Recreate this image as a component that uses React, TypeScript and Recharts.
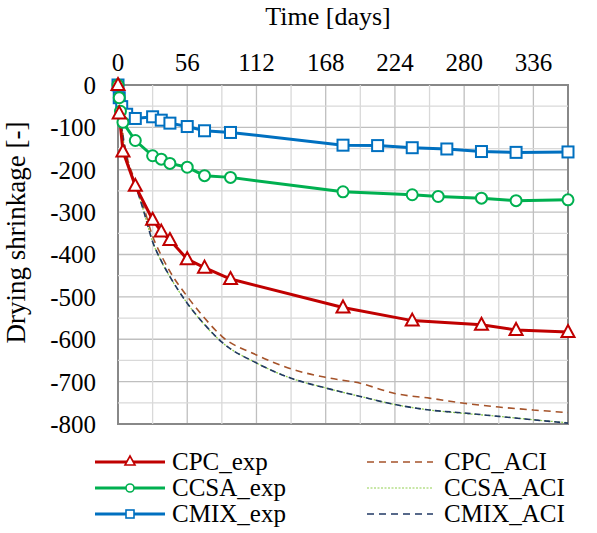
import { CartesianGrid, Line, LineChart, ReferenceArea, ReferenceLine, XAxis, YAxis } from "recharts";

const FONT = "Liberation Serif, Tinos, Times New Roman, Times, DejaVu Serif, serif";

const dayTicks = [0, 56, 112, 168, 224, 280, 336];
const minorDays = [28, 84, 140, 196, 252, 308];
const yTicks = [0, -100, -200, -300, -400, -500, -600, -700, -800];
const minorY = [-50, -150, -250, -350, -450, -550, -650, -750];

const cpcExpDays = [0, 1, 4, 14, 28, 35, 42, 56, 70, 91, 182, 238, 294, 322, 364];
const cpcExpVals = [0, -67, -157, -238, -318, -346, -366, -411, -431, -458, -525, -556, -566, -578, -583];

const ccsaExpDays = [0, 1, 2, 4, 14, 28, 35, 42, 56, 70, 91, 182, 238, 259, 294, 322, 364];
const ccsaExpVals = [0, -30, -62, -88, -131, -167, -175, -185, -194, -214, -218, -252, -259, -263, -267, -273, -271];

const cmixExpDays = [0, 1, 3, 7, 14, 28, 35, 42, 56, 70, 91, 182, 210, 238, 266, 294, 322, 364];
const cmixExpVals = [0, -30, -51, -69, -79, -75, -83, -90, -98, -108, -112, -142, -143, -148, -151, -157, -159, -158];

const aciDays = [0, 3, 7, 14, 21, 28, 35, 42, 56, 70, 84, 112, 140, 168, 196, 224, 252, 280, 308, 336, 364];
const cpcAciVals = [0, -95, -165, -228, -290, -357, -402, -440, -499, -550, -593, -637, -670, -690, -704, -728, -739, -751, -760, -767, -773];
const ccsaAciVals = [0, -100, -172, -236, -300, -370, -416, -453, -515, -566, -607, -656, -692, -715, -735, -754, -767, -775, -782, -790, -797];
const cmixAciVals = [0, -100, -170, -235, -300, -370, -415, -452, -515, -565, -607, -656, -692, -715, -735, -754, -767, -774, -782, -790, -798];

const toPoints = (days: number[], vals: number[]) => days.map((d, i) => ({ day: d, v: vals[i] }));

const RED = "#C00000";
const GREEN = "#00B050";
const BLUE = "#0070C0";
const BROWN = "#A5532A";
const LIGHTGREEN = "#92D050";
const NAVY = "#203864";

function Triangle(props: any) {
  const { cx, cy, index } = props;
  if (cx == null || cy == null) return <g key={index} />;
  return <path key={index} d={`M${cx},${cy - 7} L${cx + 6.5},${cy + 5} L${cx - 6.5},${cy + 5} Z`} fill="#fff" stroke={RED} strokeWidth={2} />;
}
function Circle(props: any) {
  const { cx, cy, index } = props;
  if (cx == null || cy == null) return <g key={index} />;
  return <circle key={index} cx={cx} cy={cy} r={5.5} fill="#fff" stroke={GREEN} strokeWidth={2} />;
}
function Square(props: any) {
  const { cx, cy, index } = props;
  if (cx == null || cy == null) return <g key={index} />;
  return <rect key={index} x={cx - 5.5} y={cy - 5.5} width={11} height={11} fill="#fff" stroke={BLUE} strokeWidth={2} />;
}

const legendLeft = [
  { name: "CPC_exp", color: RED, marker: "tri" },
  { name: "CCSA_exp", color: GREEN, marker: "circ" },
  { name: "CMIX_exp", color: BLUE, marker: "sq" },
];
const legendRight = [
  { name: "CPC_ACI", color: BROWN, dash: "7 5", w: 1.6 },
  { name: "CCSA_ACI", color: LIGHTGREEN, dash: "2 1.5", w: 1.2 },
  { name: "CMIX_ACI", color: NAVY, dash: "7 5", w: 1.6 },
];

export default function App() {
  return (
    <div style={{ position: "absolute", left: 0, top: 0, width: 597, height: 533, background: "#fff", fontFamily: FONT }}>
      <LineChart width={597} height={533} margin={{ top: 0, right: 29, left: 0, bottom: 109 }} style={{ fontFamily: FONT }}>
        {minorDays.map((d) => (
          <ReferenceLine key={"mx" + d} x={d} stroke="#D9D9D9" strokeWidth={1.3} />
        ))}
        {minorY.map((v) => (
          <ReferenceLine key={"my" + v} y={v} stroke="#D9D9D9" strokeWidth={1.3} />
        ))}
        <CartesianGrid stroke="#BFBFBF" strokeWidth={1.3} />
        <XAxis
          type="number"
          dataKey="day"
          orientation="top"
          domain={[0, 364]}
          ticks={dayTicks}
          height={85}
          axisLine={false}
          tickLine={false}
          tickMargin={8}
          tick={{ fill: "#000", fontSize: 25, fontFamily: FONT }}
          allowDuplicatedCategory={false}
          label={{ value: "Time [days]", position: "insideTop", dx: -15, dy: 2, fill: "#000", fontSize: 26, fontFamily: FONT }}
        />
        <YAxis
          type="number"
          domain={[-800, 0]}
          ticks={yTicks}
          width={118}
          axisLine={false}
          tickLine={false}
          tickMargin={16}
          tick={{ fill: "#000", fontSize: 25, fontFamily: FONT }}
          label={{ value: "Drying shrinkage [-]", angle: -90, position: "insideLeft", dx: 10, dy: -22, fill: "#000", fontSize: 27, fontFamily: FONT, style: { textAnchor: "middle" } }}
        />
        <ReferenceArea x1={0} x2={364} y1={-800} y2={0} fill="none" stroke="#888888" strokeWidth={2} ifOverflow="extendDomain" />
        <Line data={toPoints(aciDays, cpcAciVals)} dataKey="v" type="monotone" stroke={BROWN} strokeWidth={1.6} strokeDasharray="7 5" dot={false} isAnimationActive={false} />
        <Line data={toPoints(aciDays, ccsaAciVals)} dataKey="v" type="monotone" stroke={LIGHTGREEN} strokeWidth={1.3} strokeDasharray="2 1.5" dot={false} isAnimationActive={false} />
        <Line data={toPoints(aciDays, cmixAciVals)} dataKey="v" type="monotone" stroke={NAVY} strokeWidth={1.6} strokeDasharray="6 4" dot={false} isAnimationActive={false} />
        <Line data={toPoints(cmixExpDays, cmixExpVals)} dataKey="v" type="linear" stroke={BLUE} strokeWidth={3} dot={<Square />} isAnimationActive={false} />
        <Line data={toPoints(ccsaExpDays, ccsaExpVals)} dataKey="v" type="linear" stroke={GREEN} strokeWidth={3} dot={<Circle />} isAnimationActive={false} />
        <Line data={toPoints(cpcExpDays, cpcExpVals)} dataKey="v" type="linear" stroke={RED} strokeWidth={3} dot={<Triangle />} isAnimationActive={false} />
      </LineChart>

      {legendLeft.map((it, i) => (
        <div key={it.name} style={{ position: "absolute", left: 95, top: 450 + i * 26, height: 24, display: "flex", alignItems: "center" }}>
          <svg width={72} height={20}>
            <line x1={0} y1={10} x2={70} y2={10} stroke={it.color} strokeWidth={3} />
            {it.marker === "tri" && <path d="M35,4 L40,13 L30,13 Z" fill="#fff" stroke={it.color} strokeWidth={1.6} />}
            {it.marker === "circ" && <circle cx={35} cy={10} r={4} fill="#fff" stroke={it.color} strokeWidth={1.6} />}
            {it.marker === "sq" && <rect x={31} y={6} width={8} height={8} fill="#fff" stroke={it.color} strokeWidth={1.6} />}
          </svg>
          <span style={{ fontSize: 25, marginLeft: 5, lineHeight: "24px" }}>{it.name}</span>
        </div>
      ))}
      {legendRight.map((it, i) => (
        <div key={it.name} style={{ position: "absolute", left: 367, top: 450 + i * 26, height: 24, display: "flex", alignItems: "center" }}>
          <svg width={68} height={20}>
            <line x1={0} y1={10} x2={66} y2={10} stroke={it.color} strokeWidth={it.w} strokeDasharray={it.dash} />
          </svg>
          <span style={{ fontSize: 25, marginLeft: 9, lineHeight: "24px" }}>{it.name}</span>
        </div>
      ))}
    </div>
  );
}
